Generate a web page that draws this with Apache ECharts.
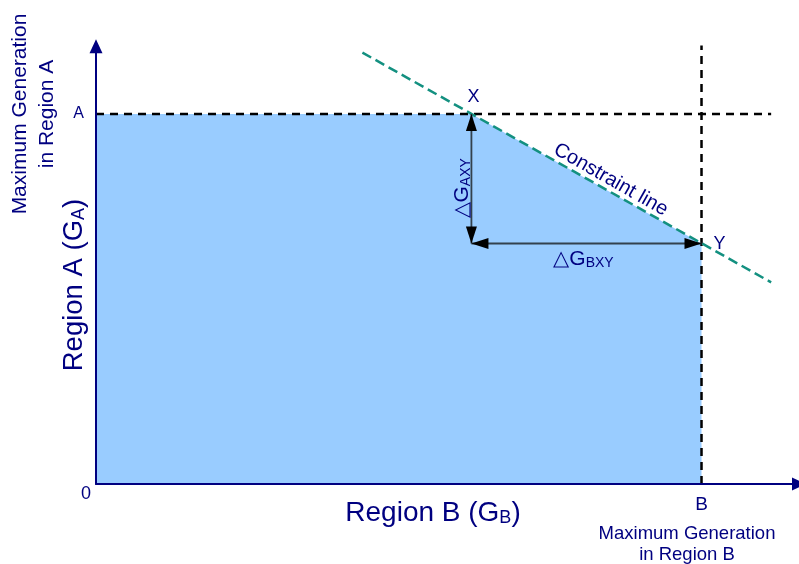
<!DOCTYPE html>
<html>
<head>
<meta charset="utf-8">
<script src="https://cdn.jsdelivr.net/npm/echarts@6/dist/echarts.min.js"></script>
<style>
html,body{margin:0;padding:0;background:#fff;}
#main{width:799px;height:564px;}
</style>
</head>
<body>
<div id="main"></div>
<script>
// ---- data ----
const xRange = [0, 116.1];
const yRange = [0, 118.3];
const tickValues = [0, 100];
const xTickLabels = ['', 'B'];
const yTickLabels = ['', 'A'];
const feasibleEdge = [[0, 100], [62, 100], [100, 65]];
const limitA = [[0, 100], [111.5, 100]];
const limitB = [[100, 0], [100, 118.5]];
const constraintLine = [[44, 116.6], [111.5, 54.5]];
const deltaA = [[62, 100], [62, 65]];
const deltaB = [[62, 65], [100, 65]];
const pointX = [62, 100];
const pointY = [100, 65];
const origin = [0, 0];
const constraintLabelAt = [84.4, 79.4];
const deltaALabelAt = [62, 81];
const deltaBLabelAt = [81, 65];

const NAVY = '#000080';
const FONT = '"Liberation Sans", Arial, sans-serif';

const chart = echarts.init(document.getElementById('main'));

function tickFmt(labels) {
  return function (v) {
    const i = tickValues.indexOf(v);
    return i >= 0 ? labels[i] : '';
  };
}

const HEAD = 17;
const arrowHead = (pt, rot, off) => ({
  value: pt,
  symbolRotate: rot,
  symbolOffset: off
});

const subRich = (main, sub, mlh, slh) => ({
  m: { fontSize: main, color: NAVY, fontFamily: FONT, lineHeight: mlh, verticalAlign: 'bottom' },
  s: { fontSize: sub, color: NAVY, fontFamily: FONT, lineHeight: slh, verticalAlign: 'bottom' }
});

const option = {
  animation: false,
  backgroundColor: '#fff',
  grid: { left: 96, right: -3, top: 46.3, bottom: 80, containLabel: false },
  xAxis: {
    type: 'value', min: xRange[0], max: xRange[1], interval: 100, z: 10,
    splitLine: { show: false }, axisTick: { show: false },
    axisLine: { show: true, lineStyle: { color: NAVY, width: 2 }, symbol: ['none', 'triangle'], symbolSize: [13, 14] },
    axisLabel: { formatter: tickFmt(xTickLabels), color: NAVY, fontSize: 19, fontFamily: FONT, margin: 11, showMaxLabel: false }
  },
  yAxis: {
    type: 'value', min: yRange[0], max: yRange[1], interval: 100, z: 10,
    splitLine: { show: false }, axisTick: { show: false },
    axisLine: { show: true, lineStyle: { color: NAVY, width: 2 }, symbol: ['none', 'triangle'], symbolSize: [13, 14] },
    axisLabel: { formatter: tickFmt(yTickLabels), color: NAVY, fontSize: 16, fontFamily: FONT, margin: 12, showMaxLabel: false }
  },
  series: [
    {
      type: 'line', data: feasibleEdge, symbol: 'none', z: 1,
      lineStyle: { width: 0, opacity: 0 },
      areaStyle: { color: '#99CCFF', opacity: 1 }
    },
    {
      type: 'line', data: limitA, symbol: 'none', clip: false, z: 3,
      lineStyle: { color: '#000', width: 2.5, type: [8, 6] }
    },
    {
      type: 'line', data: limitB, symbol: 'none', clip: false, z: 3,
      lineStyle: { color: '#000', width: 2.5, type: [8, 6] }
    },
    {
      type: 'line', data: constraintLine, symbol: 'none', clip: false, z: 4,
      lineStyle: { color: '#139080', width: 2.5, type: [10, 5] }
    },
    {
      type: 'line', data: deltaA, symbol: 'none', z: 5,
      lineStyle: { color: '#33414d', width: 1.8 }
    },
    {
      type: 'line', data: deltaB, symbol: 'none', z: 5,
      lineStyle: { color: '#33414d', width: 1.8 }
    },
    {
      type: 'scatter', symbol: 'triangle', symbolSize: [11, HEAD], z: 6,
      itemStyle: { color: '#000', opacity: 1 }, silent: true,
      data: [
        arrowHead(deltaA[0], 0, [0, HEAD / 2]),
        arrowHead(deltaA[1], 180, [0, -HEAD / 2]),
        arrowHead(deltaB[0], 90, [HEAD / 2, 0]),
        arrowHead(deltaB[1], -90, [-HEAD / 2, 0])
      ]
    },
    {
      type: 'scatter', symbolSize: 0, z: 8, silent: true,
      itemStyle: { opacity: 1, color: NAVY },
      label: { show: true, color: NAVY, fontFamily: FONT, textBorderWidth: 0, opacity: 1 },
      data: [
        { value: origin, label: { formatter: '0', fontSize: 18, offset: [-10, 10], position: 'inside' } },
        { value: [pointX[0], pointY[0]], label: { formatter: 'X', fontSize: 18, offset: [2, -17], position: 'inside' } },
        { value: [pointX[1], pointY[1]], label: { formatter: 'Y', fontSize: 18, offset: [18, 1], position: 'inside' } },
        { value: constraintLabelAt, label: { formatter: 'Constraint line', fontSize: 20, rotate: -29.6, offset: [-2, -11], position: 'inside' } },
        {
          value: deltaALabelAt,
          label: {
            position: 'inside', rotate: 90, offset: [-4, -11],
            formatter: '{m|△G}{s|AXY}',
            rich: subRich(21, 14, 25, 13)
          }
        },
        {
          value: deltaBLabelAt,
          label: {
            position: 'inside', offset: [-3, 14],
            formatter: '{m|△G}{s|BXY}',
            rich: subRich(21, 14, 25, 13)
          }
        }
      ]
    }
  ],
  graphic: [
    {
      type: 'text', x: 33.5, y: 114, rotation: Math.PI / 2, z: 10,
      style: { text: 'Maximum Generation\nin Region A', fill: NAVY, font: '21px ' + FONT, align: 'center', verticalAlign: 'middle', lineHeight: 27 }
    },
    {
      type: 'text', x: 72, y: 285, rotation: Math.PI / 2, z: 10,
      style: {
        text: '{m|Region A (G}{s|A}{m|)}', align: 'center', verticalAlign: 'middle',
        rich: {
          m: { fill: NAVY, fontSize: 27.5, fontFamily: FONT, lineHeight: 32, verticalAlign: 'bottom' },
          s: { fill: NAVY, fontSize: 18, fontFamily: FONT, lineHeight: 15, verticalAlign: 'bottom' }
        }
      }
    },
    {
      type: 'text', x: 433, y: 511, z: 10,
      style: {
        text: '{m|Region B (G}{s|B}{m|)}', align: 'center', verticalAlign: 'middle',
        rich: {
          m: { fill: NAVY, fontSize: 28, fontFamily: FONT, lineHeight: 32, verticalAlign: 'bottom' },
          s: { fill: NAVY, fontSize: 18, fontFamily: FONT, lineHeight: 15, verticalAlign: 'bottom' }
        }
      }
    },
    {
      type: 'text', x: 687, y: 544, z: 10,
      style: { text: 'Maximum Generation\nin Region B', fill: NAVY, font: '18.5px ' + FONT, align: 'center', verticalAlign: 'middle', lineHeight: 21 }
    }
  ]
};

chart.setOption(option);
</script>
</body>
</html>
